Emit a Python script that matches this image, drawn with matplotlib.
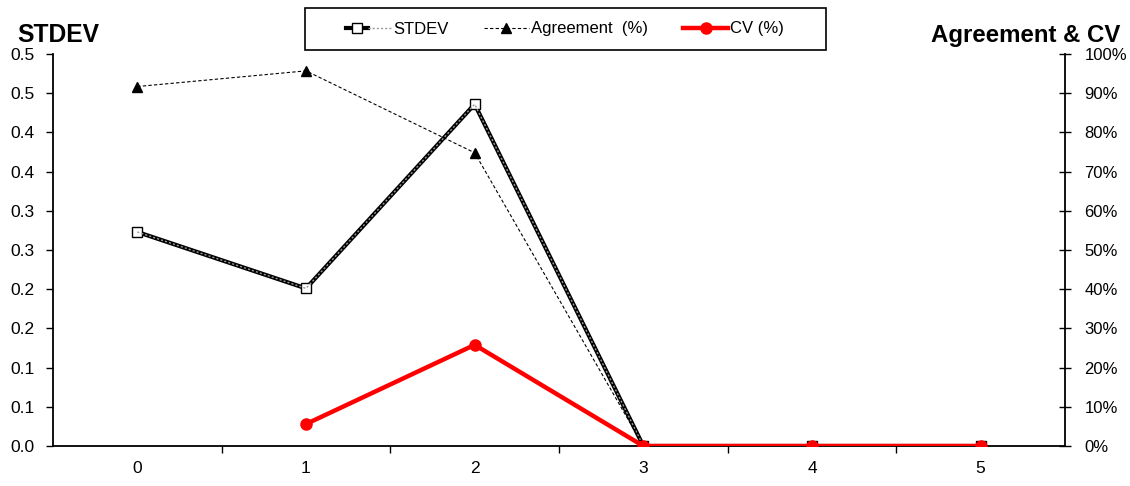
import numpy as np
import matplotlib
matplotlib.use("Agg")
import matplotlib.pyplot as plt
from matplotlib.legend_handler import HandlerTuple
from matplotlib.patches import Rectangle

plt.rcParams['font.family'] = ['Liberation Sans', 'DejaVu Sans']

categories = [0, 1, 2, 3, 4, 5]
stdev = [0.273, 0.201, 0.436, 0.0, 0.0, 0.0]
agreement = [91.7, 95.7, 74.8, 0.0, 0.0, 0.0]
cv = [np.nan, 5.6, 25.8, 0.0, 0.0, 0.0]

left_ticks = [0.0, 0.05, 0.10, 0.15, 0.20, 0.25, 0.30, 0.35, 0.40, 0.45, 0.50]
left_labels = ["0.0", "0.1", "0.1", "0.2", "0.2", "0.3", "0.3", "0.4", "0.4", "0.5", "0.5"]
right_ticks = list(range(0, 101, 10))
right_labels = [f"{t}%" for t in right_ticks]

W, H = 1130, 486
fig = plt.figure(figsize=(W / 100, H / 100), dpi=100)
ax = fig.add_axes([53 / W, 40 / H, 1012 / W, 392 / H])
ax2 = ax.twinx()

x = np.arange(len(categories))

# STDEV on the left axis: heavy black line with a grey dotted overlay
l_sd, = ax.plot(x, stdev, color='black', lw=3.0, marker='s', markersize=7,
                markerfacecolor='white', markeredgecolor='black', markeredgewidth=1.0,
                zorder=3)
l_sd2, = ax.plot(x, stdev, color='#9a9a9a', lw=1.0, ls=(0, (1.5, 1.5)), zorder=4)

# Agreement and CV on the right axis
l_ag, = ax2.plot(x, agreement, color='black', lw=0.8, ls=(0, (3, 2)), marker='^',
                 markersize=7.5, markerfacecolor='black', markeredgecolor='black', zorder=3)
l_cv, = ax2.plot(x, cv, color='#ff0000', lw=3.2, marker='o', markersize=8,
                 markerfacecolor='#ff0000', markeredgecolor='#ff0000', zorder=4)

ax.set_xlim(-0.5, 5.5)
ax.set_ylim(0, 0.5)
ax2.set_ylim(0, 100)

ax.set_xticks(x)
ax.set_xticklabels([str(c) for c in categories], fontsize=12.5)
ax.set_xticks(np.arange(0.5, 5.0, 1.0), minor=True)
ax.tick_params(axis='x', which='major', length=0, pad=10.5)
ax.tick_params(axis='x', which='minor', length=5, width=1, direction='out')

ax.set_yticks(left_ticks)
ax.set_yticklabels(left_labels, fontsize=12.5)
ax.tick_params(axis='y', length=5, width=1, direction='out', pad=8)

ax2.set_yticks(right_ticks)
ax2.set_yticklabels(right_labels, fontsize=12)
ax2.tick_params(axis='y', length=8, width=1, direction='inout', pad=10)

for a in (ax, ax2):
    a.spines['top'].set_visible(False)
    for s in a.spines.values():
        s.set_linewidth(1.3)
ax.spines['right'].set_visible(False)
ax2.spines['left'].set_visible(False)
ax2.spines['bottom'].set_visible(False)

fig.text(17 / W, 1 - 42 / H, "STDEV", fontsize=17.7, fontweight='bold',
         ha='left', va='baseline')
fig.text(1120 / W, 1 - 42 / H, "Agreement & CV", fontsize=17.3, fontweight='bold',
         ha='right', va='baseline')

# Legend box with square corners
fig.patches.append(Rectangle((305 / W, 1 - 50 / H), 521 / W, 42 / H,
                             transform=fig.transFigure, facecolor='white',
                             edgecolor='black', lw=1.2, zorder=5))

leg = fig.legend([(l_sd, l_sd2), l_ag, l_cv], ["STDEV", "Agreement  (%)", "CV (%)"],
                 handler_map={tuple: HandlerTuple(ndivide=None, pad=0)},
                 loc='center', bbox_to_anchor=(565 / W, 1 - 29 / H),
                 bbox_transform=fig.transFigure, ncol=3, fontsize=12,
                 frameon=False, handlelength=2.7, handletextpad=0.15,
                 columnspacing=2.1, borderpad=0.3, borderaxespad=0)
leg.set_zorder(6)

fig.savefig("out.png", dpi=100)
